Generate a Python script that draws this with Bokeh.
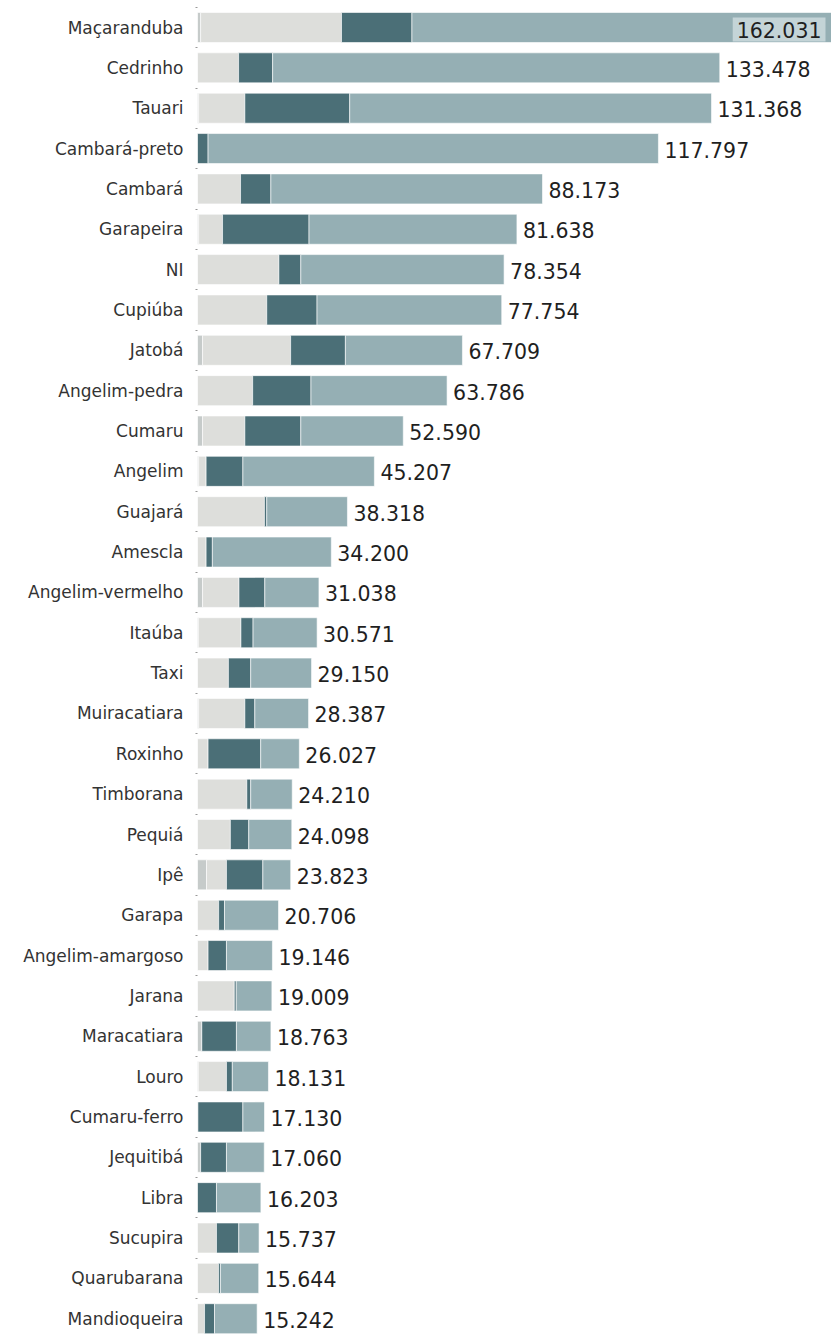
from bokeh.plotting import figure
from bokeh.models import ColumnDataSource, Range1d, FixedTicker
from bokeh.core.properties import value
from bokeh.embed import file_html
from bokeh.resources import INLINE

species = ["Maçaranduba", "Cedrinho", "Tauari", "Cambará-preto", "Cambará", "Garapeira", "NI",
           "Cupiúba", "Jatobá", "Angelim-pedra", "Cumaru", "Angelim", "Guajará", "Amescla",
           "Angelim-vermelho", "Itaúba", "Taxi", "Muiracatiara", "Roxinho", "Timborana", "Pequiá",
           "Ipê", "Garapa", "Angelim-amargoso", "Jarana", "Maracatiara", "Louro", "Cumaru-ferro",
           "Jequitibá", "Libra", "Sucupira", "Quarubarana", "Mandioqueira"]

totals = [162031, 133478, 131368, 117797, 88173, 81638, 78354, 77754, 67709, 63786, 52590, 45207,
          38318, 34200, 31038, 30571, 29150, 28387, 26027, 24210, 24098, 23823, 20706, 19146,
          19009, 18763, 18131, 17130, 17060, 16203, 15737, 15644, 15242]

seg_a = [800, 0, 300, 0, 0, 300, 0, 0, 1300, 0, 1300, 300, 0, 0, 1300, 200, 0, 300, 0, 0, 0,
         2300, 0, 0, 0, 1100, 200, 100, 800, 0, 0, 0, 0]
seg_b = [36000, 10500, 11800, 0, 11000, 6100, 20800, 17700, 22500, 14100, 10800, 1900, 17100,
         2200, 9300, 10900, 7900, 11800, 2700, 12600, 8400, 5100, 5400, 2700, 9400, 0, 7200, 0,
         0, 0, 4850, 5360, 1800]
seg_c = [18000, 8700, 26800, 2700, 7750, 22100, 5600, 12850, 14000, 14900, 14300, 9400, 600,
         1600, 6600, 3100, 5700, 2550, 13450, 1000, 4700, 9300, 1500, 4700, 500, 8850, 1500,
         11500, 6600, 4850, 5700, 500, 2550]
seg_d = [t - a - b - c for t, a, b, c in zip(totals, seg_a, seg_b, seg_c)]

colors = ["#c6cbca", "#dddedb", "#4b6f77", "#95afb4"]

n = len(species)
pos = list(range(n))
labels = [f"{t:,}".replace(",", ".") for t in totals]
xmax = max(totals)
inside = [t >= xmax * 0.98 for t in totals]

src = ColumnDataSource(dict(y=pos, a=seg_a, b=seg_b, c=seg_c, d=seg_d))

row_px = 40.35
top_px = 27
H = 1334
y_top = -top_px / row_px
y_bot = y_top + H / row_px

p = figure(width=831, height=H, output_backend="svg", toolbar_location=None,
           x_range=Range1d(0, xmax), y_range=Range1d(y_bot, y_top),
           min_border_left=197, min_border_right=0, min_border_top=0, min_border_bottom=0)
p.outline_line_color = None
p.background_fill_color = "white"
p.xgrid.visible = False
p.ygrid.visible = False
p.xaxis.visible = False

p.hbar_stack(["a", "b", "c", "d"], y="y", height=0.744, color=colors, source=src,
             line_color="white", line_alpha=0.6, line_width=1)

out_src = ColumnDataSource(dict(
    x=[t for t, i in zip(totals, inside) if not i],
    y=[y for y, i in zip(pos, inside) if not i],
    t=[l for l, i in zip(labels, inside) if not i]))
p.text(x="x", y="y", text="t", source=out_src, x_offset=6, y_offset=1,
       text_font=value("DejaVu Sans"), text_font_size="20.5px", text_color="#1f1f1f",
       text_baseline="middle", text_align="left")

in_src = ColumnDataSource(dict(
    x=[t for t, i in zip(totals, inside) if i],
    y=[y for y, i in zip(pos, inside) if i],
    t=[l for l, i in zip(labels, inside) if i]))
p.text(x="x", y="y", text="t", source=in_src, x_offset=-6, y_offset=2,
       text_font=value("DejaVu Sans"), text_font_size="20.5px", text_color="#1f1f1f",
       text_baseline="middle", text_align="right",
       background_fill_color="#c4d4d7", padding=4)

yax = p.yaxis[0]
yax.ticker = FixedTicker(ticks=pos, minor_ticks=[i - 0.5 for i in pos])
yax.major_label_overrides = {i: s for i, s in zip(pos, species)}
yax.axis_line_color = None
yax.major_tick_line_color = None
yax.minor_tick_line_color = "#999999"
yax.minor_tick_out = 2
yax.minor_tick_in = 0
yax.major_label_standoff = 8
yax.major_label_text_font = "DejaVu Sans"
yax.major_label_text_font_size = "17px"
yax.major_label_text_color = "#333333"

open("out.html", "w").write(file_html(p, INLINE))
